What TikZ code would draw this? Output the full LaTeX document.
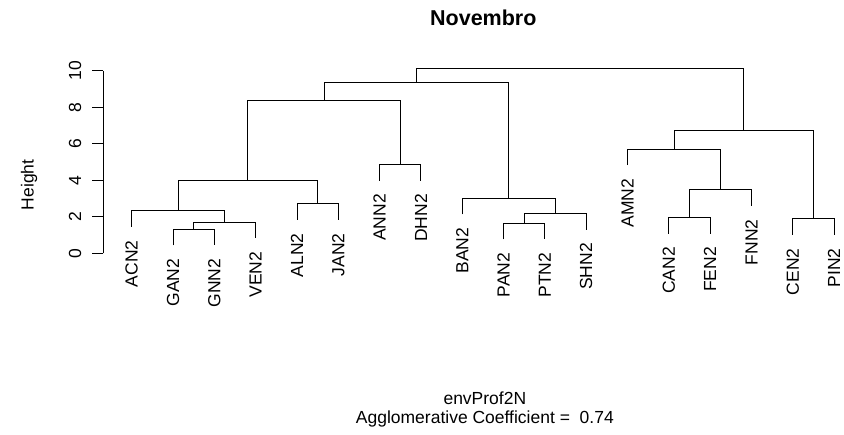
\documentclass[tikz,border=0pt]{standalone}
\usepackage{fontspec}
\setmainfont{Liberation Sans}
\begin{document}
\begin{tikzpicture}[x=41.33pt, y=18.26pt, line width=0.9pt,
        plotfont/.style={font=\fontsize{17.5}{20}\selectfont},
        leaf/.style={plotfont, rotate=90, anchor=east, inner sep=0pt},
        ticklab/.style={plotfont, rotate=90, inner sep=0pt}]
        \useasboundingbox (-2.187,-9.95) rectangle (18.24,13.87);
        \draw (0.313,0) -- (0.313,10);
        \foreach \y in {0,2,...,10}{
            \draw (0.313,\y) -- (0.032,\y);
            \node[ticklab] (t\y) at (-0.372,\y) {\y};
        }
        \foreach \lab/\h [count=\i] in {ACN2/1.44, GAN2/0.43, GNN2/0.43, VEN2/0.82,
            ALN2/1.82, JAN2/1.82, ANN2/3.97, DHN2/3.97, BAN2/2.13, PAN2/0.76,
            PTN2/0.76, SHN2/1.29, AMN2/4.82, CAN2/1.07, FEN2/1.07, FNN2/2.59,
            CEN2/1.00, PIN2/1.00}{
            \coordinate (\lab) at (\i,\h);
            \node[leaf] (n\lab) at ([yshift=-13pt]\lab) {\lab};
        }
        \foreach \c/\a/\b/\x/\h in {gg/GAN2/GNN2/2.5/1.31, ggv/gg/VEN2/3.25/1.70,
            agv/ACN2/ggv/2.125/2.32, aj/ALN2/JAN2/5.5/2.70, agj/agv/aj/3.8125/4.00,
            ad/ANN2/DHN2/7.5/4.85, cl/agj/ad/5.65625/8.38, pp/PAN2/PTN2/10.5/1.64,
            pps/pp/SHN2/11.25/2.17, bps/BAN2/pps/10.125/3.01, cm/cl/bps/7.890625/9.37,
            cf/CAN2/FEN2/14.5/1.95, cff/cf/FNN2/15.25/3.47, acf/AMN2/cff/14.125/5.70,
            cp/CEN2/PIN2/17.5/1.88, cr/acf/cp/15.8125/6.75, ctop/cm/cr/11.8515625/10.13}{
            \coordinate (\c) at (\x,\h);
            \draw (\a) |- (\c) -| (\b);
        }
        \node[font=\bfseries\fontsize{21.5}{25}\selectfont] (title) at (9.51,12.886) {Novembro};
        \node[ticklab] (ylab) at (-1.485,3.74) {Height};
        \node[plotfont, inner sep=0pt, anchor=base] (sub) at (9.548,-8.28) {envProf2N};
        \node[plotfont, inner sep=0pt, anchor=base] (coef) at (9.548,-9.33) {Agglomerative Coefficient =\ \ 0.74};
\end{tikzpicture}
\end{document}
